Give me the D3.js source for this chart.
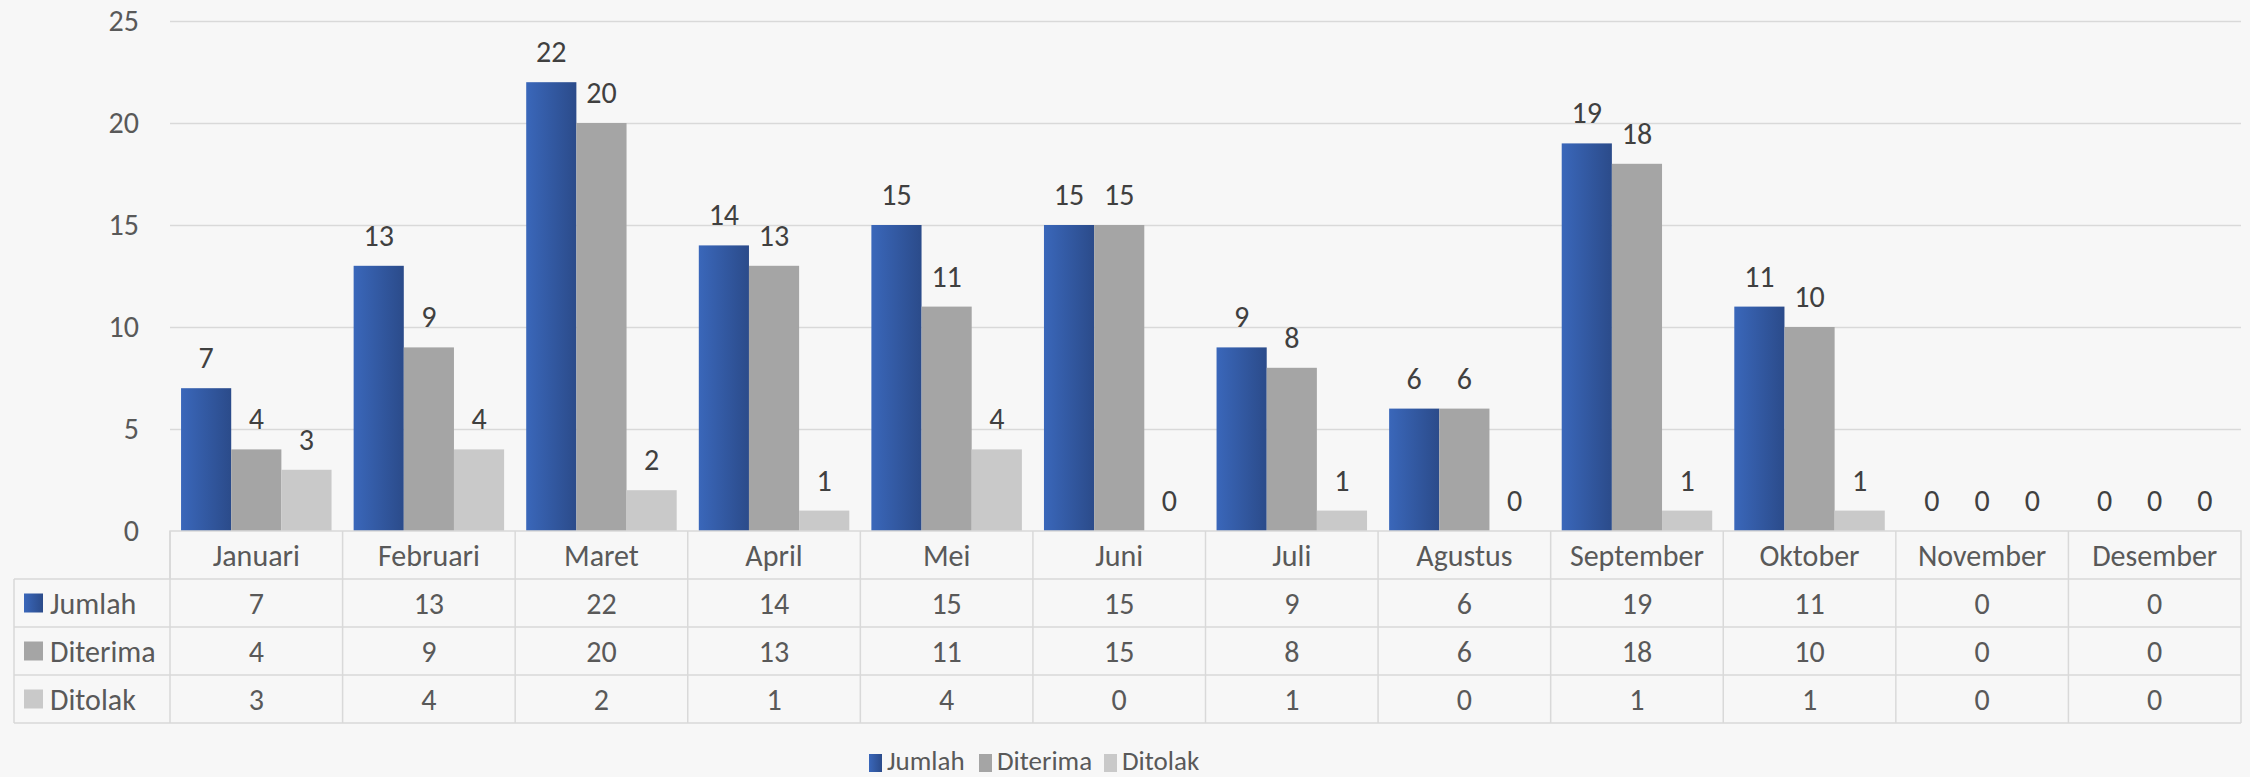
<!DOCTYPE html>
<html>
<head>
<meta charset="utf-8">
<script src="https://cdn.jsdelivr.net/npm/d3@7"></script>
<style>
  html, body { margin: 0; padding: 0; background: #f7f7f7; }
  svg { display: block; font-family: Carlito, Lato, sans-serif; }
</style>
</head>
<body>
<div id="chart"></div>
<script>
const months = ['Januari', 'Februari', 'Maret', 'April', 'Mei', 'Juni', 'Juli', 'Agustus', 'September', 'Oktober', 'November', 'Desember'];
const jumlah = [7, 13, 22, 14, 15, 15, 9, 6, 19, 11, 0, 0];
const diterima = [4, 9, 20, 13, 11, 15, 8, 6, 18, 10, 0, 0];
const ditolak = [3, 4, 2, 1, 4, 0, 1, 0, 1, 1, 0, 0];
const seriesNames = ['Jumlah', 'Diterima', 'Ditolak'];
const yTicks = [0, 5, 10, 15, 20, 25];

const series = [
  { name: seriesNames[0], values: jumlah, fill: 'url(#blueGrad)' },
  { name: seriesNames[1], values: diterima, fill: '#a5a5a5' },
  { name: seriesNames[2], values: ditolak, fill: '#c9c9c9' },
];

const width = 2250;
const height = 777;
const plot = { left: 170, right: 2241, top: 21, bottom: 531 };
const rowH = 48;
const labelCol = 14;
const textColor = '#595959';
const gridColor = '#d9d9d9';
const fontSize = 30;

const svg = d3.select('#chart')
  .append('svg')
  .attr('width', width)
  .attr('height', height);

const defs = svg.append('defs');
const grad = defs.append('linearGradient')
  .attr('id', 'blueGrad')
  .attr('x1', '0%').attr('x2', '100%')
  .attr('y1', '0%').attr('y2', '0%');
grad.append('stop').attr('offset', '0%').attr('stop-color', '#3a67ba');
grad.append('stop').attr('offset', '100%').attr('stop-color', '#2b4b8a');

svg.append('rect')
  .attr('width', width)
  .attr('height', height)
  .attr('fill', '#f7f7f7');

const x = d3.scaleBand()
  .domain(months)
  .range([plot.left, plot.right])
  .paddingInner(0.128)
  .paddingOuter(0.064);

const xs = d3.scaleBand()
  .domain(seriesNames)
  .range([0, x.bandwidth()]);

const y = d3.scaleLinear()
  .domain([0, 25])
  .range([plot.bottom, plot.top]);

// gridlines + y axis labels
const yAxis = d3.axisLeft(y)
  .tickValues(yTicks)
  .tickSize(-(plot.right - plot.left))
  .tickPadding(31);

svg.append('g')
  .attr('transform', `translate(${plot.left}, 0)`)
  .call(yAxis)
  .call(g => g.select('.domain').remove())
  .call(g => g.selectAll('.tick line')
    .attr('stroke', gridColor)
    .attr('stroke-width', 1.5)
    .attr('stroke-opacity', d => (d === 0 ? 0 : 1)))
  .call(g => g.selectAll('.tick text')
    .attr('fill', textColor)
    .attr('font-size', fontSize)
    .attr('font-family', 'Carlito, Lato, sans-serif'));

// bars
const groups = svg.append('g')
  .selectAll('g')
  .data(series)
  .join('g');

groups.selectAll('rect')
  .data(s => s.values.map((v, i) => ({ name: s.name, month: months[i], value: v, fill: s.fill })))
  .join('rect')
  .attr('x', d => x(d.month) + xs(d.name))
  .attr('y', d => y(d.value))
  .attr('width', xs.bandwidth())
  .attr('height', d => y(0) - y(d.value))
  .attr('fill', d => d.fill);

groups.selectAll('text')
  .data(s => s.values.map((v, i) => ({ name: s.name, month: months[i], value: v })))
  .join('text')
  .attr('x', d => x(d.month) + xs(d.name) + xs.bandwidth() / 2)
  .attr('y', d => y(d.value) - 20)
  .attr('text-anchor', 'middle')
  .attr('font-size', fontSize)
  .attr('fill', '#404040')
  .text(d => d.value);

// data table
const colW = (plot.right - plot.left) / months.length;
const table = svg.append('g')
  .attr('fill', 'none')
  .attr('stroke', gridColor)
  .attr('stroke-width', 1.5);

table.append('path')
  .attr('d', `M${plot.left},${plot.bottom + rowH} V${plot.bottom} H${plot.right} V${plot.bottom + rowH * 4}`);

d3.range(1, 5).forEach(r => {
  table.append('line')
    .attr('x1', labelCol).attr('x2', plot.right)
    .attr('y1', plot.bottom + rowH * r).attr('y2', plot.bottom + rowH * r);
});
table.append('line')
  .attr('x1', labelCol).attr('x2', labelCol)
  .attr('y1', plot.bottom + rowH).attr('y2', plot.bottom + rowH * 4);

months.forEach((m, i) => {
  table.append('line')
    .attr('x1', plot.left + colW * i).attr('x2', plot.left + colW * i)
    .attr('y1', plot.bottom).attr('y2', plot.bottom + rowH * 4);
});

svg.append('g')
  .selectAll('text')
  .data(months)
  .join('text')
  .attr('x', (d, i) => plot.left + colW * (i + 0.5))
  .attr('y', plot.bottom + rowH / 2)
  .attr('dy', '0.35em')
  .attr('text-anchor', 'middle')
  .attr('font-size', fontSize)
  .attr('fill', textColor)
  .text(d => d);

series.forEach((s, r) => {
  const cy = plot.bottom + rowH * (r + 1.5);
  svg.append('rect')
    .attr('x', 24).attr('y', cy - 9.5)
    .attr('width', 19).attr('height', 19)
    .attr('fill', s.fill);
  svg.append('text')
    .attr('x', 50).attr('y', cy)
    .attr('dy', '0.35em')
    .attr('font-size', fontSize)
    .attr('fill', textColor)
    .text(s.name);
  svg.append('g')
    .selectAll('text')
    .data(s.values)
    .join('text')
    .attr('x', (d, i) => plot.left + colW * (i + 0.5))
    .attr('y', cy)
    .attr('dy', '0.35em')
    .attr('text-anchor', 'middle')
    .attr('font-size', fontSize)
    .attr('fill', textColor)
    .text(d => d);
});

// legend
const legendX = [869, 979, 1104];
const legend = svg.append('g');
series.forEach((s, i) => {
  legend.append('rect')
    .attr('x', legendX[i]).attr('y', 754)
    .attr('width', 13).attr('height', 18)
    .attr('fill', s.fill);
  legend.append('text')
    .attr('x', legendX[i] + 18).attr('y', 770)
    .attr('font-size', 27)
    .attr('fill', textColor)
    .text(s.name);
});
</script>
</body>
</html>
